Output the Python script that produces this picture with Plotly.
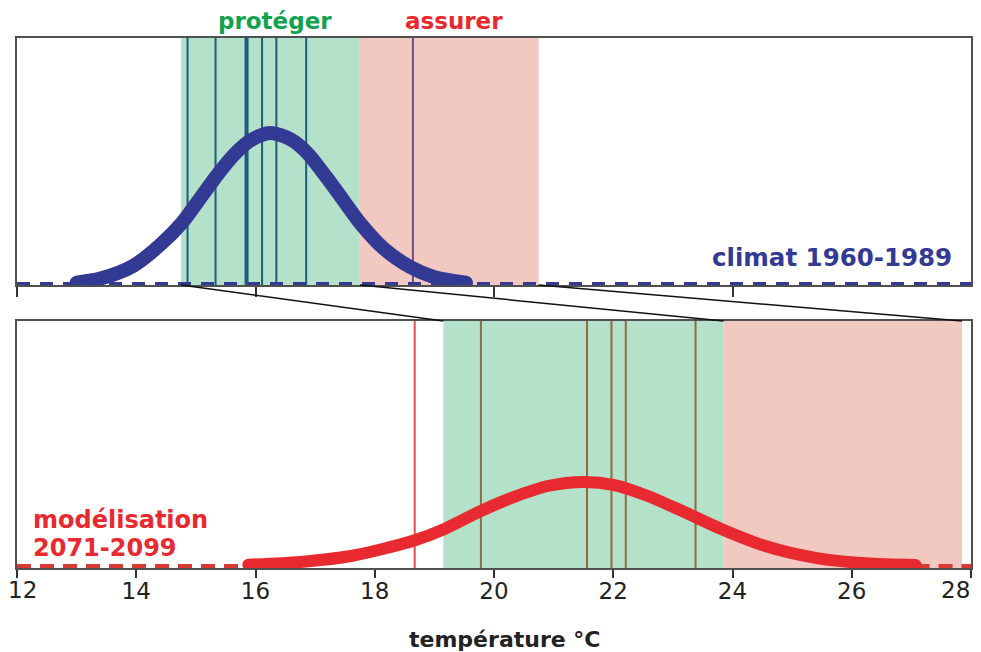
import plotly.graph_objects as go

# ---------------- data ----------------
# climate 1960-1989 distribution (top panel)
blue_x = [13.0, 13.4, 13.95, 14.4, 14.77, 15.08, 15.36, 15.63, 15.92, 16.25,
          16.59, 16.87, 17.2, 17.48, 17.76, 18.15, 18.6, 19.0, 19.53]
blue_y = [0.003, 0.012, 0.04, 0.086, 0.135, 0.19, 0.24, 0.283, 0.316, 0.332,
          0.318, 0.288, 0.233, 0.183, 0.133, 0.078, 0.037, 0.015, 0.003]

# modelled 2071-2099 distribution (bottom panel)
red_x = [15.88, 16.76, 17.6, 18.15, 18.66, 19.16, 19.78, 20.34, 20.9, 21.51,
         22.02, 22.58, 23.14, 23.82, 24.55, 25.39, 26.23, 27.07]
red_y = [0.003, 0.009, 0.022, 0.038, 0.056, 0.081, 0.121, 0.152, 0.176, 0.185,
         0.178, 0.154, 0.122, 0.081, 0.044, 0.018, 0.006, 0.002]

# bands: [green start, green end = red start, red end]
bands_top = [14.75, 17.75, 20.75]
bands_bottom = [19.15, 23.85, 27.85]

# vertical marker lines
lines_top = [14.86, 15.33, 16.11, 16.35, 16.85]
line_top_thick = [15.85]
line_top_purple = [18.64]
line_bottom_red = [18.67]
lines_bottom = [19.78, 21.56, 21.97, 22.21, 23.38]

x_range = [12, 28]
ticks_bottom = [12, 14, 16, 18, 20, 22, 24, 26, 28]
tick_labels = ["", "14", "16", "18", "20", "22", "24", "26", ""]
# the end labels sit inside the frame in the original
end_label_pos = [12.1, 28]
end_label_anchor = ["center", "right"]
end_labels = ["12", "28"]
ticks_top = [12, 16, 20, 24]

# ---------------- colours ----------------
NAVY = "#333a94"
RED = "#e8292f"
GREEN_TXT = "#10a24e"
GREEN_BAND = "#b3e1ca"
RED_BAND = "#f1c9c0"
TEAL = "#205a7e"
PURPLE = "#6e4f8c"
BROWN = "#8f6a45"
FRAME = "#505050"

# page has an 8px body margin: the figure is drawn from (8, 8)
OFF = 8
W, H = 981 - OFF, 652 - OFF


def fx(p):
    return (p - OFF) / W


def fy(p):
    return 1 - (p - OFF) / H


xd = [fx(17), fx(971)]
yd_top = [fy(285), fy(38)]
yd_bot = [fy(568), fy(321)]

fig = go.Figure()

# top panel
fig.add_trace(go.Scatter(x=x_range, y=[0, 0], mode="lines",
                         line=dict(color=NAVY, width=4, dash="13px,10px"),
                         xaxis="x", yaxis="y", hoverinfo="skip"))
fig.add_trace(go.Scatter(x=blue_x, y=blue_y, mode="lines",
                         line=dict(color=NAVY, width=14, shape="spline", smoothing=0.8),
                         xaxis="x", yaxis="y"))
fig.add_trace(go.Scatter(x=[blue_x[0], blue_x[-1]], y=[blue_y[0], blue_y[-1]], mode="markers",
                         marker=dict(color=NAVY, size=14, line=dict(width=0)),
                         xaxis="x", yaxis="y", hoverinfo="skip"))
# bottom panel
fig.add_trace(go.Scatter(x=[x_range[0], red_x[0]], y=[0, 0], mode="lines",
                         line=dict(color="#d93a33", width=4, dash="14px,9px"),
                         xaxis="x2", yaxis="y2", hoverinfo="skip"))
fig.add_trace(go.Scatter(x=[red_x[-1], x_range[1]], y=[0, 0], mode="lines",
                         line=dict(color="#d93a33", width=4, dash="14px,9px"),
                         xaxis="x2", yaxis="y2", hoverinfo="skip"))
fig.add_trace(go.Scatter(x=red_x, y=red_y, mode="lines",
                         line=dict(color=RED, width=12, shape="spline", smoothing=0.8),
                         xaxis="x2", yaxis="y2"))
fig.add_trace(go.Scatter(x=[red_x[0], red_x[-1]], y=[red_y[0], red_y[-1]], mode="markers",
                         marker=dict(color=RED, size=12, line=dict(width=0)),
                         xaxis="x2", yaxis="y2", hoverinfo="skip"))

shapes = []
# bands
for xr, yr, b in (("x", "y domain", bands_top), ("x2", "y2 domain", bands_bottom)):
    shapes.append(dict(type="rect", xref=xr, yref=yr, x0=b[0], x1=b[1], y0=0, y1=1,
                       fillcolor=GREEN_BAND, line=dict(width=0), layer="below"))
    shapes.append(dict(type="rect", xref=xr, yref=yr, x0=b[1], x1=b[2], y0=0, y1=1,
                       fillcolor=RED_BAND, line=dict(width=0), layer="below"))


def vlines(vals, xr, yr, color, width):
    for v in vals:
        shapes.append(dict(type="line", xref=xr, yref=yr, x0=v, x1=v, y0=0, y1=1,
                           line=dict(color=color, width=width), layer="below"))


vlines(lines_top, "x", "y domain", TEAL, 2)
vlines(line_top_thick, "x", "y domain", TEAL, 4)
vlines(line_top_purple, "x", "y domain", PURPLE, 2)
vlines(line_bottom_red, "x2", "y2 domain", "#d9534f", 2)
vlines(lines_bottom, "x2", "y2 domain", BROWN, 2)

# connecting lines between the two panels
for a, b in zip(bands_top, bands_bottom):
    shapes.append(dict(type="line", xref="x", yref="paper", x0=a, x1=b,
                       y0=yd_top[0], y1=yd_bot[1], line=dict(color="#111111", width=1.5)))

annotations = [
    dict(text="<b>protéger</b>", x=275, y=21, font=dict(color=GREEN_TXT, size=23)),
    dict(text="<b>assurer</b>", x=454, y=21, font=dict(color=RED, size=23)),
    dict(text="<b>climat 1960-1989</b>", x=832, y=257, font=dict(color=NAVY, size=24.5)),
    dict(text="<b>modélisation</b>", x=31, y=520, font=dict(color=RED, size=24), xanchor="left"),
    dict(text="<b>2071-2099</b>", x=31, y=548, font=dict(color=RED, size=24), xanchor="left"),
    dict(text="<b>température °C</b>", x=504, y=639, font=dict(color="#222222", size=22)),
]
ann = []
for a in annotations:
    d = dict(xref="paper", yref="paper", showarrow=False, yanchor="middle",
             xanchor=a.get("xanchor", "center"))
    d.update(a)
    d["x"] = fx(a["x"])
    d["y"] = fy(a["y"])
    ann.append(d)

tickfont = dict(size=23, color="#222222")
# end tick labels of the bottom axis (placed just inside the frame, as in the original)
for pos, anc, lab in zip(end_label_pos, end_label_anchor, end_labels):
    ann.append(dict(text=lab, xref="x2", yref="paper", x=pos, y=fy(590),
                    xanchor=anc, yanchor="middle", showarrow=False, font=tickfont,
                    borderpad=0))

axis_common = dict(showgrid=False, zeroline=False, showline=True, linecolor=FRAME,
                   linewidth=2, mirror=True, automargin=False)

fig.update_layout(
    width=W, height=H,
    margin=dict(l=0, r=0, t=0, b=0, autoexpand=False),
    paper_bgcolor="white", plot_bgcolor="rgba(0,0,0,0)",
    showlegend=False,
    font=dict(family="DejaVu Sans, Verdana, sans-serif", color="#222222"),
    xaxis=dict(domain=xd, range=x_range, anchor="y", tickvals=ticks_top,
               ticks="outside", ticklen=10, tickwidth=2, tickcolor="#333333",
               showticklabels=False, **axis_common),
    yaxis=dict(domain=yd_top, range=[-0.0022, 0.541], anchor="x",
               showticklabels=False, ticks="", **axis_common),
    xaxis2=dict(domain=xd, range=x_range, anchor="y2", tickvals=ticks_bottom,
                ticktext=tick_labels, ticklabelstandoff=-7,
                ticks="outside", ticklen=8, tickwidth=2, tickcolor="#333333",
                tickfont=tickfont, **axis_common),
    yaxis2=dict(domain=yd_bot, range=[-0.0044, 0.539], anchor="x2",
                showticklabels=False, ticks="", **axis_common),
    shapes=shapes,
    annotations=ann,
)

fig.write_html("out.html")
